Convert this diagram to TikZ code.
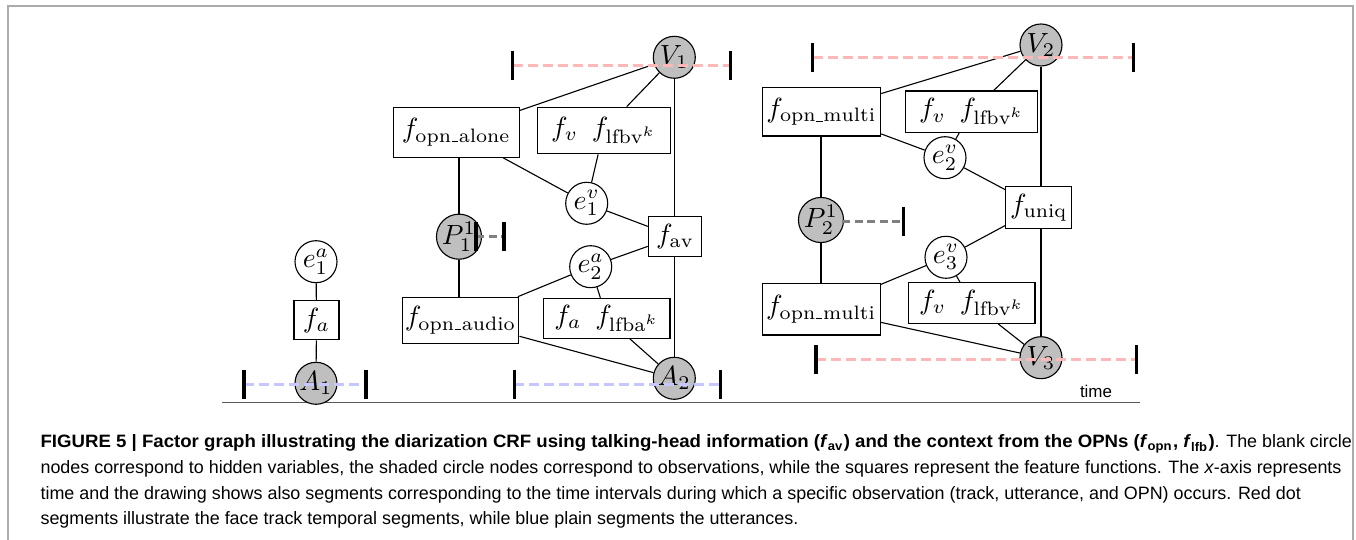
\documentclass[tikz,border=0pt]{standalone}
\usepackage{fontspec}
\newfontfamily\capfont{Liberation Sans}
\newcommand\usc{\kern0.3pt\vbox{\hrule width 2.2pt height 0.35pt}\kern0.3pt}
\begin{document}
\begin{tikzpicture}[x=0.36pt,y=-0.36pt,
  var/.style={circle,draw,line width=0.4pt,minimum size=15.12pt,inner sep=0pt,fill=white},
  obs/.style={var,fill=black!25},
  fac/.style={rectangle,draw,line width=0.4pt,inner sep=1pt,fill=white},
  edge/.style={line width=0.4pt},
  segtickstyle/.style={line width=1.1pt,black},
  redseg/.style={line width=1.1pt,red!28,dash pattern=on 3.6pt off 1.8pt},
  blueseg/.style={line width=1.1pt,blue!22,dash pattern=on 3.6pt off 1.8pt},
  grayseg/.style={line width=1.1pt,black!50,dash pattern=on 3pt off 1.5pt},
  framestyle/.style={line width=0.72pt,black!33},
  axisstyle/.style={line width=0.7pt,black!65},
  capline/.style={anchor=base west,inner sep=0pt,font=\capfont\fontsize{6.45}{7.5}\selectfont}
]
\useasboundingbox (0,0) rectangle (1356,540);
\newcommand\segtick[1]{\draw[segtickstyle] (#1) ++(0,-14.5) -- ++(0,29);}

% frame
\coordinate (fl) at (8,540);
\coordinate (ftl) at (8,6);
\coordinate (ftr) at (1352.5,6);
\coordinate (fr) at (1352.5,540);
\draw[framestyle] (fl) -- (ftl) -- (ftr) -- (fr);

% time axis
\coordinate (ax0) at (222,402.5);
\coordinate (ax1) at (1140,402.5);
\draw[axisstyle] (ax0) -- (ax1);
\node[font=\capfont\fontsize{6.1}{7}\selectfont,inner sep=0pt] (time) at (1096,391) {time};

% group 1
\node[var] (e1a) at (316,261.7) {$e_1^a$};
\node[fac,minimum width=16.2pt,minimum height=14pt] (fa1) at (316.5,320.3) {$f_a$};
\node[obs] (A1) at (316,383.3) {$A_1$};

% group 2
\node[obs] (V1) at (674.3,57.3) {$V_1$};
\node[fac,minimum width=45.4pt,minimum height=18pt] (fopnalone) at (456.3,132.3) {$f_{\mathrm{opn}\usc\mathrm{alone}}$};
\node[fac,minimum width=47.9pt,minimum height=16.8pt] (fv1) at (603.7,130.5) {$f_v\hspace{5pt}f_{\mathrm{lfbv}^k}$};
\node[var] (e1v) at (586.7,203.3) {$e_1^v$};
\node[obs] (P1) at (459,236.7) {$P_1^1$};
\node[fac,minimum width=19.2pt,minimum height=14.4pt] (fav) at (675,236.7) {$f_{\mathrm{av}}$};
\node[var] (e2a) at (590.7,266.7) {$e_2^a$};
\node[fac,minimum width=41.6pt,minimum height=16.6pt] (fopnaudio) at (460.5,320.3) {$f_{\mathrm{opn}\usc\mathrm{audio}}$};
\node[fac,minimum width=45.6pt,minimum height=14.4pt] (fa2) at (606.7,318.3) {$f_a\hspace{5pt}f_{\mathrm{lfba}^k}$};
\node[obs] (A2) at (674.3,378.3) {$A_2$};

% group 3
\node[obs] (V2) at (1041,45) {$V_2$};
\node[fac,minimum width=42.6pt,minimum height=17.5pt] (fopnmulti1) at (821.5,111.7) {$f_{\mathrm{opn}\usc\mathrm{multi}}$};
\node[fac,minimum width=47.4pt,minimum height=15pt] (fv2) at (971.5,111.8) {$f_v\hspace{5pt}f_{\mathrm{lfbv}^k}$};
\node[var] (e2v) at (945,157.7) {$e_2^v$};
\node[obs] (P2) at (821,220) {$P_2^1$};
\node[fac,minimum width=23.7pt,minimum height=15pt] (funiq) at (1038.8,207.5) {$f_{\mathrm{uniq}}$};
\node[var] (e3v) at (946,257.3) {$e_3^v$};
\node[fac,minimum width=42.4pt,minimum height=18.6pt] (fopnmulti2) at (821.2,309.2) {$f_{\mathrm{opn}\usc\mathrm{multi}}$};
\node[fac,minimum width=45.6pt,minimum height=14.7pt] (fv3) at (971.7,303) {$f_v\hspace{5pt}f_{\mathrm{lfbv}^k}$};
\node[obs] (V3) at (1041,357.7) {$V_3$};

% edges group 1
\draw[edge] (e1a) -- (fa1);
\draw[edge] (fa1) -- (A1);
% edges group 2
\draw[edge] (V1) -- (fopnalone);
\draw[edge] (V1) -- (fv1);
\draw[edge] (V1.south) -- (V1.south |- fav.north);
\draw[edge] (fopnalone.south -| P1.north) -- (P1.north);
\draw[edge] (fopnalone) -- (e1v);
\draw[edge] (fv1) -- (e1v);
\draw[edge] (e1v) -- (fav);
\draw[edge] (e2a) -- (fav);
\draw[edge] (P1.south) -- (P1.south |- fopnaudio.north);
\draw[edge] (e2a) -- (fopnaudio);
\draw[edge] (e2a) -- (fa2);
\draw[edge] (fopnaudio) -- (A2);
\draw[edge] (fa2) -- (A2);
\draw[edge] (fav.south -| A2.north) -- (A2.north);
% edges group 3
\draw[edge] (V2) -- (fopnmulti1);
\draw[edge] (V2) -- (fv2);
\draw[edge] (V2.south) -- (V2.south |- funiq.north);
\draw[edge] (fopnmulti1.south -| P2.north) -- (P2.north);
\draw[edge] (fopnmulti1) -- (e2v);
\draw[edge] (fv2) -- (e2v);
\draw[edge] (e2v) -- (funiq);
\draw[edge] (funiq) -- (e3v);
\draw[edge] (e3v) -- (fopnmulti2);
\draw[edge] (e3v) -- (fv3);
\draw[edge] (P2.south) -- (P2.south |- fopnmulti2.north);
\draw[edge] (fopnmulti2) -- (V3);
\draw[edge] (fv3) -- (V3);
\draw[edge] (funiq.south -| V3.north) -- (V3.north);

% time segments
\coordinate (a1s) at (244,384.3);   \coordinate (a1e) at (366,384.3);
\coordinate (a2s) at (514.3,384.3); \coordinate (a2e) at (720.7,384.3);
\coordinate (v1s) at (512.7,65.7);  \coordinate (v1e) at (730.7,65.7);
\coordinate (p1s) at (476,236.7);   \coordinate (p1e) at (504,236.7);
\coordinate (v2s) at (812.7,57.3);  \coordinate (v2e) at (1133.3,57.3);
\coordinate (p2s) at (842,221.7);   \coordinate (p2e) at (903.3,221.7);
\coordinate (v3s) at (816,359.3);   \coordinate (v3e) at (1136.7,359.3);
\draw[blueseg] (a1s) -- (a1e); \segtick{a1s} \segtick{a1e}
\draw[blueseg] (a2s) -- (a2e); \segtick{a2s} \segtick{a2e}
\draw[redseg] (v1s) -- (v1e); \segtick{v1s} \segtick{v1e}
\draw[grayseg] (p1s) -- (p1e); \segtick{p1s} \segtick{p1e}
\draw[redseg] (v2s) -- (v2e); \segtick{v2s} \segtick{v2e}
\draw[grayseg] (p2s) -- (p2e); \segtick{p2e}
\draw[redseg] (v3s) -- (v3e); \segtick{v3s} \segtick{v3e}

% caption
\node[capline] (cap1) at (40,448) {\scalebox{1.04}[1]{\textbf{FIGURE 5 | Factor graph illustrating the diarization CRF using talking-head information (\textit{f}\textsubscript{av}) and the context from the OPNs (\textit{f}\textsubscript{opn}, \textit{f}\textsubscript{lfb})}}. The blank circle};
\node[capline] (cap2) at (40,474) {nodes correspond to hidden variables, the shaded circle nodes correspond to observations, while the squares represent the feature functions. The \textit{x}-axis represents};
\node[capline] (cap3) at (40,500) {time and the drawing shows also segments corresponding to the time intervals during which a specific observation (track, utterance, and OPN) occurs. Red dot};
\node[capline] (cap4) at (40,525) {segments illustrate the face track temporal segments, while blue plain segments the utterances.};
\end{tikzpicture}
\end{document}
